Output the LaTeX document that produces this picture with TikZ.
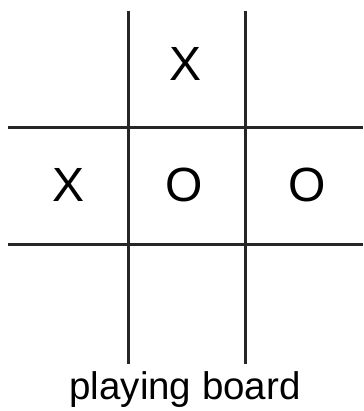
\documentclass[tikz,border=0pt]{standalone}
\usepackage{fontspec}
\setmainfont{Liberation Sans}
\begin{document}
\begin{tikzpicture}[x=1pt,y=1pt,
  gridline/.style={line width=3pt,black!85},
  sym/.style={inner sep=0pt,font=\fontsize{48}{48}\selectfont},
  caption/.style={inner sep=0pt,anchor=base,font=\fontsize{38.5}{40}\selectfont}]
\useasboundingbox (0,0) rectangle (363,411);
% grid
\draw[gridline] (128,400) -- (128,47);
\draw[gridline] (245,400) -- (245,47);
\draw[gridline] (8,283) -- (363,283);
\draw[gridline] (8,166) -- (363,166);
% symbols
\node[sym] (x1) at (186,347) {X};
\node[sym] (x2) at (69,226) {X};
\node[sym] (o1) at (184,226) {O};
\node[sym] (o2) at (307,226) {O};
% caption
\node[caption] (cap) at (185,11) {playing board};
\end{tikzpicture}
\end{document}
